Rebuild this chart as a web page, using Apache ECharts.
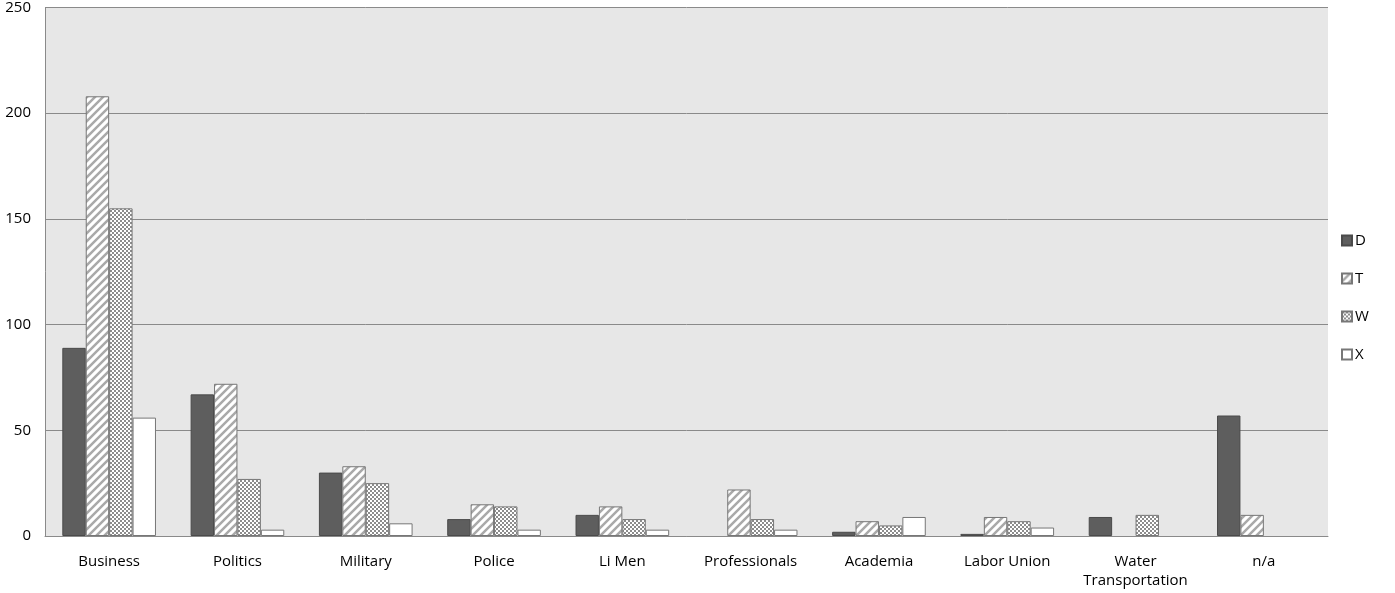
<!DOCTYPE html>
<html>
<head>
<meta charset="utf-8">
<script src="https://cdn.jsdelivr.net/npm/echarts@6/dist/echarts.min.js"></script>
<style>
	html, body { margin: 0; padding: 0; background: #fff; }
	#chart { width: 1395px; height: 593px; }
</style>
</head>
<body>
<div id="chart"></div>
<script>
	// 分类与各系列数值
	var categories = ['Business', 'Politics', 'Military', 'Police', 'Li Men', 'Professionals', 'Academia', 'Labor Union', 'Water\nTransportation', 'n/a'];
	var seriesNames = ['D', 'T', 'W', 'X'];
	var dataD = [89, 67, 30, 8, 10, 0, 2, 1, 9, 57];
	var dataT = [208, 72, 33, 15, 14, 22, 7, 9, 0, 10];
	var dataW = [155, 27, 25, 14, 8, 8, 5, 7, 10, 0];
	var dataX = [56, 3, 6, 3, 3, 3, 9, 4, 0, 0];
	var yTicks = [0, 50, 100, 150, 200, 250];

	// 斜线填充
	function stripePattern() {
		var c = document.createElement('canvas');
		c.width = 8; c.height = 8;
		var ctx = c.getContext('2d');
		ctx.fillStyle = '#ffffff';
		ctx.fillRect(0, 0, 8, 8);
		ctx.strokeStyle = '#a9a9a9';
		ctx.lineWidth = 2.5;
		ctx.beginPath();
		ctx.moveTo(-2, 10); ctx.lineTo(10, -2);
		ctx.moveTo(-6, 6); ctx.lineTo(6, -6);
		ctx.moveTo(2, 14); ctx.lineTo(14, 2);
		ctx.stroke();
		return c;
	}

	// 格子填充
	function checkPattern() {
		var c = document.createElement('canvas');
		c.width = 4; c.height = 4;
		var ctx = c.getContext('2d');
		ctx.fillStyle = '#ffffff';
		ctx.fillRect(0, 0, 4, 4);
		ctx.fillStyle = '#8c8c8c';
		ctx.fillRect(0, 0, 2, 2);
		ctx.fillRect(2, 2, 2, 2);
		return c;
	}

	var fills = [
		'#5e5e5e',
		{ image: stripePattern(), repeat: 'repeat' },
		{ image: checkPattern(), repeat: 'repeat' },
		'#ffffff'
	];
	var allData = [dataD, dataT, dataW, dataX];

	var series = [];
	for (var i = 0; i < seriesNames.length; i++) {
		series.push({
			name: seriesNames[i],
			type: 'bar',
			// 0 不画柱子
			data: allData[i].map(function (v) { return v === 0 ? null : v; }),
			barGap: '0%',
			barCategoryGap: '27%',
			itemStyle: {
				color: fills[i],
				borderColor: i == 0 ? '#4a4a4a' : '#777777',
				borderWidth: 1
			}
		});
	}

	var chart = echarts.init(document.getElementById('chart'));
	chart.setOption({
		animation: false,
		textStyle: { fontFamily: '"Open Sans", sans-serif' },
		grid: {
			left: 45, right: 67, top: 6, bottom: 57,
			show: true, backgroundColor: '#e7e7e7', borderWidth: 0
		},
		legend: {
			orient: 'vertical',
			left: 1336, top: 228,
			icon: 'rect',
			itemWidth: 10, itemHeight: 10, itemGap: 23,
			textStyle: { fontSize: 15, color: '#000', padding: [0, 0, 0, -2] },
			data: seriesNames
		},
		xAxis: {
			type: 'category',
			data: categories,
			axisLine: { lineStyle: { color: '#8a8a8a' } },
			axisTick: { show: false },
			axisLabel: { color: '#000', fontSize: 15, margin: 16, lineHeight: 19, interval: 0 }
		},
		yAxis: {
			type: 'value',
			min: yTicks[0], max: yTicks[yTicks.length - 1], interval: 50,
			axisLine: { show: true, lineStyle: { color: '#8a8a8a' } },
			axisTick: { show: false },
			splitLine: { lineStyle: { color: '#8a8a8a', width: 1 } },
			axisLabel: { color: '#000', fontSize: 15, margin: 14 }
		},
		series: series
	});

	window.onresize = function(){
		chart.resize();
	}
</script>
</body>
</html>
